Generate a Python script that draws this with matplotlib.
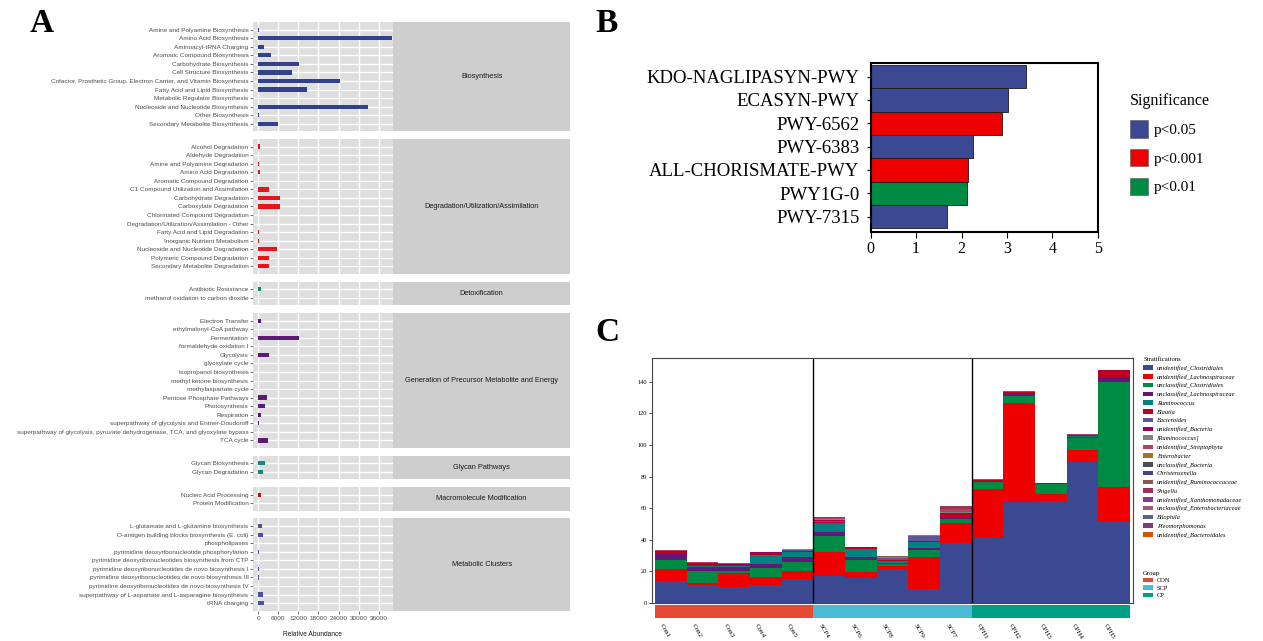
import numpy as np
import matplotlib
matplotlib.use("Agg")
from matplotlib import pyplot as plt
from matplotlib.patches import Patch

# ---------------- data: panel A (pathway classes) ----------------
bio_names = ["Amine and Polyamine Biosynthesis", "Amino Acid Biosynthesis",
             "Aminoacyl-tRNA Charging", "Aromatic Compound Biosynthesis",
             "Carbohydrate Biosynthesis", "Cell Structure Biosynthesis",
             "Cofactor, Prosthetic Group, Electron Carrier, and Vitamin Biosynthesis",
             "Fatty Acid and Lipid Biosynthesis", "Metabolic Regulator Biosynthesis",
             "Nucleoside and Nucleotide Biosynthesis", "Other Biosynthesis",
             "Secondary Metabolite Biosynthesis"]
bio_vals = [300, 39900, 1700, 3700, 12200, 10200, 24500, 14500, 50, 32700, 100, 5900]

deg_names = ["Alcohol Degradation", "Aldehyde Degradation",
             "Amine and Polyamine Degradation", "Amino Acid Degradation",
             "Aromatic Compound Degradation",
             "C1 Compound Utilization and Assimilation",
             "Carbohydrate Degradation", "Carboxylate Degradation",
             "Chlorinated Compound Degradation",
             "Degradation/Utilization/Assimilation - Other",
             "Fatty Acid and Lipid Degradation", "Inorganic Nutrient Metabolism",
             "Nucleoside and Nucleotide Degradation",
             "Polymeric Compound Degradation", "Secondary Metabolite Degradation"]
deg_vals = [400, 30, 300, 400, 50, 3200, 6400, 6500, 0, 0, 200, 300, 5700, 3300, 3100]

det_names = ["Antibiotic Resistance", "methanol oxidation to carbon dioxide"]
det_vals = [700, 0]

gen_names = ["Electron Transfer", "ethylmalonyl-CoA pathway", "Fermentation",
             "formaldehyde oxidation I", "Glycolysis", "glyoxylate cycle",
             "isopropanol biosynthesis", "methyl ketone biosynthesis",
             "methylaspartate cycle", "Pentose Phosphate Pathways",
             "Photosynthesis", "Respiration",
             "superpathway of glycolysis and Entner-Doudoroff",
             "superpathway of glycolysis, pyruvate dehydrogenase, TCA, and glyoxylate bypass",
             "TCA cycle"]
gen_vals = [700, 0, 12100, 0, 3300, 0, 0, 0, 0, 2700, 1900, 700, 300, 0, 3000]

gly_names = ["Glycan Biosynthesis", "Glycan Degradation"]
gly_vals = [1900, 1500]

mac_names = ["Nucleic Acid Processing", "Protein Modification"]
mac_vals = [700, 0]

met_names = ["L-glutamate and L-glutamine biosynthesis",
             "O-antigen building blocks biosynthesis (E. coli)",
             "phospholipases",
             "pyrimidine deoxyribonucleotide phosphorylation",
             "pyrimidine deoxyribonucleotides biosynthesis from CTP",
             "pyrimidine deoxyribonucleotides de novo biosynthesis I",
             "pyrimidine deoxyribonucleotides de novo biosynthesis III",
             "pyrimidine deoxyribonucleotides de novo biosynthesis IV",
             "superpathway of L-aspartate and L-asparagine biosynthesis",
             "tRNA charging"]
met_vals = [1000, 1300, 0, 300, 0, 300, 300, 0, 1400, 1800]

class_titles = ["Biosynthesis", "Degradation/Utilization/Assimilation",
                "Detoxification", "Generation of Precursor Metabolite and Energy",
                "Glycan Pathways", "Macromolecule Modification", "Metabolic Clusters"]
class_colors = ["#33418C", "#E8141C", "#15895A", "#5B1A78", "#1A8585", "#B3121F", "#4F4F9A"]
abund_ticks = [0, 6000, 12000, 18000, 24000, 30000, 36000]

# ---------------- data: panel B ----------------
path_names = ["KDO-NAGLIPASYN-PWY", "ECASYN-PWY", "PWY-6562", "PWY-6383",
              "ALL-CHORISMATE-PWY", "PWY1G-0", "PWY-7315"]
path_scores = [3.43, 3.03, 2.90, 2.26, 2.15, 2.13, 1.68]
path_sig = ["p<0.05", "p<0.05", "p<0.001", "p<0.05", "p<0.001", "p<0.01", "p<0.05"]
sig_levels = ["p<0.05", "p<0.001", "p<0.01"]
sig_colors = ["#3B4992", "#EE0000", "#008B45"]

# ---------------- data: panel C ----------------
samples = ["Con1", "Con2", "Con3", "Con4", "Con5", "SCP4", "SCP6", "SCP8", "SCP9",
           "SCP7", "CPH1", "CPH2", "CPH3", "CPH4", "CPH5"]
sample_groups = ["CON", "CON", "CON", "CON", "CON", "SCP", "SCP", "SCP", "SCP",
                 "SCP", "CP", "CP", "CP", "CP", "CP"]
group_names = ["CON", "SCP", "CP"]
group_colors = ["#E64B35", "#4DBBD5", "#00A087"]

taxa = ["unidentified_Clostridiales", "unidentified_Lachnospiraceae",
        "unclassified_Clostridiales", "unclassified_Lachnospiraceae",
        "Ruminococcus", "Blautia", "Bacteroides", "unidentified_Bacteria",
        "[Ruminococcus]", "unidentified_Streptophyta", "Enterobacter",
        "unclassified_Bacteria", "Christensenella",
        "unidentified_Ruminococcaceae", "Shigella",
        "unidentified_Xanthomonadaceae", "unclassified_Enterobacteriaceae",
        "Bilophila", "Pleomorphomonas", "unidentified_Bacteroidales"]
taxa_colors = ["#3B4992", "#EE0000", "#008B45", "#631879", "#008280", "#BB0021",
               "#5F559B", "#A20056", "#808180", "#B8405E", "#A6761D", "#4A4E5C",
               "#3E4685", "#8A5A4E", "#9A3456", "#8B3A8F", "#A05A76", "#5C6390",
               "#7B3E7E", "#D35400"]

uid_clostridiales = [14.0, 11.2, 10.1, 11.0, 15.2, 17.1, 15.4, 21.6, 8.5, 37.6, 40.8, 64.1, 64.7, 89.4, 51.4]
uid_lachno = [7.4, 1.5, 8.5, 5.3, 4.7, 15.2, 4.3, 1.7, 20.3, 12.7, 31.1, 62.3, 4.0, 7.6, 21.7]
ucl_clostridiales = [5.4, 7.4, 1.7, 5.9, 6.1, 10.0, 7.4, 1.0, 4.6, 2.8, 4.4, 4.9, 6.4, 7.7, 66.6]
ucl_lachno = [3.9, 2.7, 2.5, 2.1, 2.8, 2.7, 1.7, 1.1, 1.5, 1.0, 0.8, 1.0, 0.2, 0.7, 3.4]
ruminococcus = [0.4, 0.3, 0.3, 5.9, 3.1, 5.3, 5.0, 1.0, 3.8, 0.4, 0.1, 0.1, 0.1, 0.1, 0.1]
blautia = [1.2, 1.6, 0.8, 1.2, 1.2, 1.0, 0.8, 0.4, 0.3, 1.7, 0.5, 1.1, 0.2, 0.5, 4.2]
bacteroides = [0.0, 0.0, 0.2, 0.3, 0.2, 0.8, 0.3, 1.4, 3.6, 0.2, 0.0, 0.0, 0.0, 0.0, 0.0]
uid_bacteria = [0.5, 0.5, 0.4, 0.3, 0.4, 0.5, 0.2, 0.3, 0.0, 0.8, 0.3, 0.3, 0.0, 0.4, 0.3]
ruminococcus_br = [0.2, 0.2, 0.0, 0.3, 0.3, 0.6, 0.4, 0.5, 0.1, 0.3, 0.0, 0.0, 0.0, 0.0, 0.0]
streptophyta = [0.2, 0.2, 0.4, 0.0, 0.2, 0.3, 0.0, 0.0, 0.0, 2.0, 0.3, 0.5, 0.2, 0.5, 0.0]
enterobacter = [0.0, 0.0, 0.0, 0.0, 0.0, 0.1, 0.0, 0.0, 0.0, 0.1, 0.0, 0.0, 0.0, 0.0, 0.0]
ucl_bacteria = [0.0, 0.0, 0.0, 0.0, 0.0, 0.1, 0.0, 0.1, 0.0, 0.0, 0.0, 0.0, 0.0, 0.0, 0.0]
christensenella = [0.0, 0.0, 0.0, 0.0, 0.0, 0.1, 0.0, 0.2, 0.0, 0.0, 0.0, 0.0, 0.0, 0.0, 0.0]
uid_ruminococcaceae = [0.0, 0.0, 0.0, 0.0, 0.0, 0.1, 0.0, 0.1, 0.0, 0.1, 0.0, 0.0, 0.0, 0.0, 0.0]
shigella = [0.2, 0.0, 0.0, 0.0, 0.0, 0.2, 0.0, 0.0, 0.0, 1.4, 0.0, 0.0, 0.0, 0.0, 0.0]
uid_xanthomonadaceae = [0.0, 0.0, 0.0, 0.0, 0.0, 0.1, 0.0, 0.0, 0.0, 0.0, 0.0, 0.0, 0.0, 0.0, 0.0]
ucl_enterobacteriaceae = [0.0, 0.0, 0.0, 0.0, 0.0, 0.2, 0.0, 0.0, 0.0, 0.3, 0.0, 0.0, 0.0, 0.0, 0.0]
bilophila = [0.0, 0.0, 0.0, 0.0, 0.0, 0.0, 0.0, 0.2, 0.1, 0.0, 0.0, 0.0, 0.0, 0.0, 0.0]
pleomorphomonas = [0.0, 0.0, 0.0, 0.0, 0.0, 0.1, 0.0, 0.0, 0.0, 0.0, 0.0, 0.0, 0.0, 0.0, 0.0]
uid_bacteroidales = [0.0, 0.0, 0.0, 0.0, 0.0, 0.0, 0.0, 0.0, 0.0, 0.0, 0.0, 0.0, 0.0, 0.0, 0.0]

taxa_values = [uid_clostridiales, uid_lachno, ucl_clostridiales, ucl_lachno,
               ruminococcus, blautia, bacteroides, uid_bacteria, ruminococcus_br,
               streptophyta, enterobacter, ucl_bacteria, christensenella,
               uid_ruminococcaceae, shigella, uid_xanthomonadaceae,
               ucl_enterobacteriaceae, bilophila, pleomorphomonas, uid_bacteroidales]
count_ticks = [0, 20, 40, 60, 80, 100, 120, 140]

# ---------------- figure ----------------
W, H = 1263, 641
fig = plt.figure(figsize=(W / 100, H / 100), dpi=100)
SANS = "Liberation Sans"
SERIF = "Liberation Serif"


def px_axes(x0, y0, x1, y1):
    # axes from pixel box (top-left origin)
    return fig.add_axes([x0 / W, 1 - y1 / H, (x1 - x0) / W, (y1 - y0) / H])


# panel letters
for letter, (lx, ly) in zip("ABC", [(42, 23), (607, 23), (607, 332)]):
    fig.text(lx / W, 1 - ly / H, letter, family=SERIF, fontweight="bold",
             fontsize=24, ha="center", va="center")

# ---------------- panel A ----------------
class_names = [bio_names, deg_names, det_names, gen_names, gly_names, mac_names, met_names]
class_vals = [bio_vals, deg_vals, det_vals, gen_vals, gly_vals, mac_vals, met_vals]
top = 22.0
row = 8.55
gap = 7.5
for k, (names, vals) in enumerate(zip(class_names, class_vals)):
    n = len(names)
    h = (n + 0.8) * row
    ax = px_axes(253.3, top, 393.3, top + h)
    ax.set_facecolor("#DEDEDE")
    ax.barh(np.arange(n), vals, height=0.5, color=class_colors[k], zorder=3)
    ax.set_ylim(n - 1 + 0.9, -0.9)
    ax.set_xlim(-1500, 40400)
    ax.set_yticks(np.arange(n))
    ax.set_yticklabels(names, fontsize=4.6, family=SANS, color="#4D4D4D")
    ax.set_xticks(abund_ticks)
    ax.grid(True, color="white", linewidth=1.0, zorder=0)
    ax.set_axisbelow(True)
    ax.tick_params(length=2, width=0.5, color="#333333", pad=1.5)
    for sp in ax.spines.values():
        sp.set_visible(False)
    if k < len(class_names) - 1:
        ax.tick_params(axis="x", labelbottom=False, length=0)
    else:
        ax.set_xticklabels([str(t) for t in abund_ticks], fontsize=4.6,
                           family=SANS, color="#4D4D4D")
    strip = px_axes(393.3, top, 570, top + h)
    strip.set_facecolor("#CECECE")
    strip.set_xticks([])
    strip.set_yticks([])
    for sp in strip.spines.values():
        sp.set_visible(False)
    strip.text(0.5, 0.5, class_titles[k], fontsize=5.3, family=SANS,
               color="#1A1A1A", ha="center", va="center", transform=strip.transAxes)
    top += h + gap

fig.text(312 / W, 1 - 634 / H, "Relative Abundance", fontsize=4.8, family=SANS,
         ha="center", va="center", color="#1A1A1A")

# ---------------- panel B ----------------
axB = px_axes(870.7, 63.3, 1097.7, 231.7)
bar_cols = [sig_colors[sig_levels.index(s)] for s in path_sig]
axB.barh(np.arange(len(path_names)), path_scores, height=1.0, color=bar_cols,
         edgecolor="#1A1A1A", linewidth=0.6)
axB.set_ylim(len(path_names) - 0.35, -0.57)
axB.set_xlim(0, 5)
axB.set_xticks([0, 1, 2, 3, 4, 5])
axB.set_yticks(np.arange(len(path_names)))
axB.set_yticklabels(path_names, family=SERIF, fontsize=13.5)
axB.set_xticklabels(["0", "1", "2", "3", "4", "5"], family=SERIF, fontsize=11.5)
axB.tick_params(axis="y", length=3, width=0.8, pad=5)
axB.tick_params(axis="x", length=4, width=0.8, pad=2.5)
for sp in axB.spines.values():
    sp.set_linewidth(1.5)
handlesB = [Patch(facecolor=c, edgecolor="#555555", linewidth=0.4) for c in sig_colors]
legB = fig.legend(handlesB, sig_levels, loc="upper left",
                  bbox_to_anchor=(1130 / W, 1 - 93 / H), frameon=False,
                  prop={"family": SERIF, "size": 11}, title="Significance",
                  title_fontproperties={"family": SERIF, "size": 11.5},
                  handlelength=1.2, handleheight=1.35, labelspacing=0.75,
                  handletextpad=0.35, borderpad=0, borderaxespad=0,
                  alignment="left")

# ---------------- panel C ----------------
axC = px_axes(651.7, 358.3, 1133.3, 602.7)
xs = np.arange(len(samples))
bottom = np.zeros(len(samples))
for vals, col in zip(taxa_values, taxa_colors):
    vals = np.array(vals)
    axC.bar(xs, vals, bottom=bottom, width=1.0, color=col, linewidth=0)
    bottom += vals
axC.axvline(4.5, color="black", linewidth=1.0)
axC.axvline(9.5, color="black", linewidth=1.0)
axC.set_xlim(-0.6, len(samples) - 0.4)
axC.set_ylim(0, 155)
axC.set_xticks([])
axC.set_yticks(count_ticks)
axC.set_yticklabels([str(t) for t in count_ticks], family=SERIF, fontsize=4.6)
axC.tick_params(axis="y", length=2, width=0.5, pad=1.5)
for sp in axC.spines.values():
    sp.set_linewidth(0.8)
    sp.set_color("#444444")

axS = px_axes(651.7, 605, 1133.3, 618.3)
axS.bar(xs, np.ones(len(samples)), width=1.0, linewidth=0,
        color=[group_colors[group_names.index(g)] for g in sample_groups])
axS.set_xlim(-0.6, len(samples) - 0.4)
axS.set_ylim(0, 1)
axS.set_yticks([])
axS.set_xticks(xs - 0.3)
axS.set_xticklabels(samples, family=SERIF, fontsize=5.0, rotation=-60,
                    ha="left", va="center", rotation_mode="anchor")
axS.tick_params(axis="x", length=0, pad=4)
for sp in axS.spines.values():
    sp.set_visible(False)

handlesC = [Patch(facecolor=c, linewidth=0) for c in taxa_colors]
legC = fig.legend(handlesC, taxa, loc="upper left",
                  bbox_to_anchor=(1143 / W, 1 - 357 / H), frameon=False,
                  prop={"family": SERIF, "style": "italic", "size": 4.6},
                  title="Stratifications",
                  title_fontproperties={"family": SERIF, "size": 4.8},
                  handlelength=1.6, handleheight=0.7, labelspacing=0.5,
                  handletextpad=0.6, borderpad=0, borderaxespad=0,
                  alignment="left")
handlesG = [Patch(facecolor=c, linewidth=0) for c in group_colors]
legG = fig.legend(handlesG, group_names, loc="upper left",
                  bbox_to_anchor=(1143 / W, 1 - 571 / H), frameon=False,
                  prop={"family": SERIF, "size": 4.6},
                  title="Group",
                  title_fontproperties={"family": SERIF, "size": 4.8},
                  handlelength=1.6, handleheight=0.7, labelspacing=0.3,
                  handletextpad=0.6, borderpad=0, borderaxespad=0,
                  alignment="left")

plt.savefig("out.png", dpi=100)
